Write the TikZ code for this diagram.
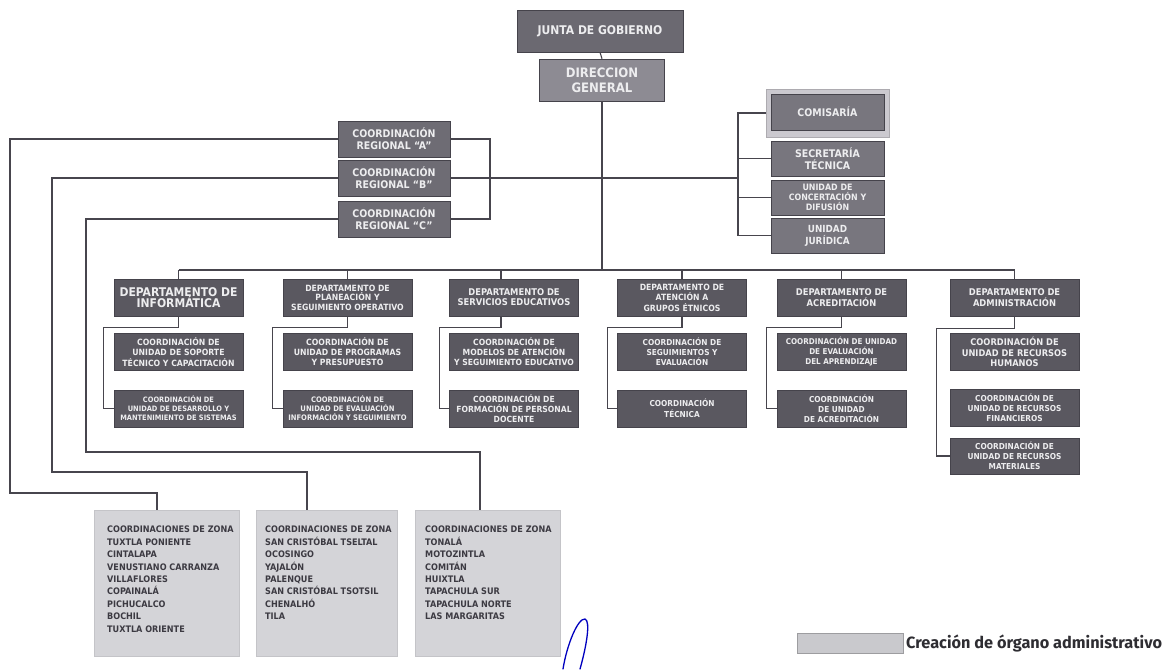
\documentclass[tikz,border=0pt]{standalone}
\usepackage{fontspec}
\setmainfont{DejaVu Sans Condensed}
\newfontfamily\legfont{Fira Sans}
\usetikzlibrary{calc}
\definecolor{linec}{HTML}{47454D}
\definecolor{deptc}{HTML}{5A5860}
\definecolor{edgec}{HTML}{45434B}
\definecolor{regc}{HTML}{6E6C74}
\definecolor{juntac}{HTML}{6B6971}
\definecolor{dgc}{HTML}{8D8B93}
\definecolor{rightc}{HTML}{78767E}
\definecolor{framec}{HTML}{CBC9CF}
\definecolor{zonec}{HTML}{D4D4D8}
\definecolor{zedge}{HTML}{C4C4C8}
\definecolor{txtc}{HTML}{EDEDEF}
\definecolor{ztxt}{HTML}{3C3A42}
\definecolor{legtxt}{HTML}{2E2D32}
\newcommand\fsz[2]{\fontsize{#1}{#2}\selectfont}
\begin{document}
\begin{tikzpicture}[x=1pt,y=-1pt,
  conn/.style={draw=linec, line width=1.1pt},
  box/.style={rectangle, draw=edgec, line width=0.6pt, text=txtc, align=center, inner sep=1pt, fill=deptc},
  dept/.style={box, minimum width=129, minimum height=37},
  sub/.style={box, minimum width=129, minimum height=37},
  reg/.style={box, fill=regc, minimum width=112, minimum height=36, font=\bfseries\fsz{10.5}{12}},
  rbox/.style={box, fill=rightc, minimum width=113, minimum height=35},
  zone/.style={rectangle, fill=zonec, draw=zedge, line width=0.5pt, minimum height=146},
  ztext/.style={anchor=north west, inner sep=0pt, align=left, text=ztxt, font=\bfseries\fsz{9}{12.4}}
]
\fill[white] (0,0) rectangle (1166,669);
\useasboundingbox (0,0) rectangle (1166,669);

% top
\node[box, fill=juntac, minimum width=166, minimum height=42, font=\bfseries\fsz{12}{13}] (junta) at (600,31) {JUNTA DE GOBIERNO};
\node[box, fill=dgc, minimum width=125, minimum height=42, font=\bfseries\fsz{13}{15}] (dg) at (602,80) {DIRECCION\\GENERAL};

% right column
\node[rectangle, fill=framec, draw=framec!85!black, line width=0.4pt, minimum width=123, minimum height=48] (comf) at (827.5,113) {};
\node[rbox, minimum height=36, font=\bfseries\fsz{10.5}{12}] (com) at (827.5,112) {COMISARÍA};
\node[rbox, font=\bfseries\fsz{10.5}{12}] (sec) at (827.5,158.5) {SECRETARÍA\\TÉCNICA};
\node[rbox, font=\bfseries\fsz{8.8}{10}] (con) at (827.5,197.5) {UNIDAD DE\\CONCERTACIÓN Y\\DIFUSIÓN};
\node[rbox, font=\bfseries\fsz{9.8}{12}] (jur) at (827.5,235.5) {UNIDAD\\JURÍDICA};

% regional
\node[reg] (rA) at (394,139) {COORDINACIÓN\\REGIONAL “A”};
\node[reg] (rB) at (394,178) {COORDINACIÓN\\REGIONAL “B”};
\node[reg] (rC) at (394,219) {COORDINACIÓN\\REGIONAL “C”};

% departments
\node[dept, font=\bfseries\fsz{12}{11.5}] (inf) at (178.5,297.5) {DEPARTAMENTO DE\\INFORMÁTICA};
\node[dept, font=\bfseries\fsz{8.6}{9.6}] (pla) at (347.5,297.5) {DEPARTAMENTO DE\\PLANEACIÓN Y\\SEGUIMIENTO OPERATIVO};
\node[dept, font=\bfseries\fsz{9.3}{10}] (ser) at (514,297.5) {DEPARTAMENTO DE\\SERVICIOS EDUCATIVOS};
\node[dept, font=\bfseries\fsz{8.6}{10.5}] (ate) at (682,297.5) {DEPARTAMENTO DE\\ATENCIÓN A\\GRUPOS ÉTNICOS};
\node[dept, font=\bfseries\fsz{9.3}{11}] (acr) at (841.5,297.5) {DEPARTAMENTO DE\\ACREDITACIÓN};
\node[dept, font=\bfseries\fsz{9.3}{11}] (adm) at (1014.5,297.5) {DEPARTAMENTO DE\\ADMINISTRACIÓN};

% sub units
\node[sub, font=\bfseries\fsz{8.6}{10.3}] (inf1) at (178.5,352) {COORDINACIÓN DE\\UNIDAD DE SOPORTE\\TÉCNICO Y CAPACITACIÓN};
\node[sub, font=\bfseries\fsz{7.4}{9}] (inf2) at (178.5,408.5) {COORDINACIÓN DE\\UNIDAD DE DESARROLLO Y\\MANTENIMIENTO DE SISTEMAS};
\node[sub, font=\bfseries\fsz{8.6}{10}] (pla1) at (347.5,352) {COORDINACIÓN DE\\UNIDAD DE PROGRAMAS\\Y PRESUPUESTO};
\node[sub, font=\bfseries\fsz{7.6}{9}] (pla2) at (347.5,408.5) {COORDINACIÓN DE\\UNIDAD DE EVALUACIÓN\\INFORMACIÓN Y SEGUIMIENTO};
\node[sub, font=\bfseries\fsz{8.5}{10}] (ser1) at (514,352) {COORDINACIÓN DE\\MODELOS DE ATENCIÓN\\Y SEGUIMIENTO EDUCATIVO};
\node[sub, font=\bfseries\fsz{8.5}{10}] (ser2) at (514,408.5) {COORDINACIÓN DE\\FORMACIÓN DE PERSONAL\\DOCENTE};
\node[sub, font=\bfseries\fsz{8.2}{10}] (ate1) at (682,352) {COORDINACIÓN DE\\SEGUIMIENTOS Y\\EVALUACIÓN};
\node[sub, font=\bfseries\fsz{8.2}{11}] (ate2) at (682,408.5) {COORDINACIÓN\\TÉCNICA};
\node[sub, font=\bfseries\fsz{8}{10}] (acr1) at (841.5,352) {COORDINACIÓN DE UNIDAD\\DE EVALUACIÓN\\DEL APRENDIZAJE};
\node[sub, font=\bfseries\fsz{8.2}{10}] (acr2) at (841.5,408.5) {COORDINACIÓN\\DE UNIDAD\\DE ACREDITACIÓN};
\node[sub, font=\bfseries\fsz{9.2}{10.5}] (adm1) at (1014.5,352) {COORDINACIÓN DE\\UNIDAD DE RECURSOS\\HUMANOS};
\node[sub, font=\bfseries\fsz{8.2}{10}] (adm2) at (1014.5,407.5) {COORDINACIÓN DE\\UNIDAD DE RECURSOS\\FINANCIEROS};
\node[sub, minimum height=36, font=\bfseries\fsz{8.2}{10}] (adm3) at (1014.5,456) {COORDINACIÓN DE\\UNIDAD DE RECURSOS\\MATERIALES};

% zone boxes
\node[zone, minimum width=145] (z1) at (166.5,583) {};
\node[zone, minimum width=141] (z2) at (326.5,583) {};
\node[zone, minimum width=145] (z3) at (487.5,583) {};
\node[ztext] (z1t) at (107,526) {COORDINACIONES DE ZONA\\TUXTLA PONIENTE\\CINTALAPA\\VENUSTIANO CARRANZA\\VILLAFLORES\\COPAINALÁ\\PICHUCALCO\\BOCHIL\\TUXTLA ORIENTE};
\node[ztext] (z2t) at (265,526) {COORDINACIONES DE ZONA\\SAN CRISTÓBAL TSELTAL\\OCOSINGO\\YAJALÓN\\PALENQUE\\SAN CRISTÓBAL TSOTSIL\\CHENALHÓ\\TILA};
\node[ztext] (z3t) at (425,526) {COORDINACIONES DE ZONA\\TONALÁ\\MOTOZINTLA\\COMITÁN\\HUIXTLA\\TAPACHULA SUR\\TAPACHULA NORTE\\LAS MARGARITAS};

% legend
\node[rectangle, fill=zonec!95!black, draw=zedge!80!black, line width=0.6pt, minimum width=106, minimum height=20] (leg) at (850,643) {};
\node[anchor=west, inner sep=0pt, text=legtxt, font=\legfont\bfseries\fsz{16.3}{18}] (legt) at (906,643) {Creación de órgano administrativo};

% coordinates
\coordinate (busy) at (0,270);
\coordinate (rbr) at (738,178);
\coordinate (lbr) at (490,178);
\coordinate (ca) at (10,493);
\coordinate (ta) at (157,493);
\coordinate (cb) at (52,472);
\coordinate (tb) at (307,472);
\coordinate (cc) at (86,452);
\coordinate (tc) at (480,452);
\coordinate (sx) at (501,0);

% connectors top
\draw[conn] (junta.south) -- (dg.north);
\draw[conn] (dg.south) -- (dg.south |- busy);
\draw[conn] (rB.east) -- (rbr);
\draw[conn] (rA.east) -| (lbr) |- (rC.east);
\draw[conn] (comf.west) -| (rbr) |- (jur.west);
\draw[conn] (sec.west) -- (sec.west -| rbr);
\draw[conn] (con.west) -- (con.west -| rbr);

% bus to departments
\draw[conn] (inf.north |- busy) -- (adm.north |- busy);
\foreach \d in {inf,pla,ate,acr,adm}{
  \draw[conn] (\d.north) -- (\d.north |- busy);
}
\draw[conn] (sx |- ser.north) -- (sx |- busy);
% department to sub units
\foreach \d in {inf,pla,ate,acr}{
  \draw[conn] (\d.south) -- ++(0,11) -| ([xshift=-10pt]\d1.west) |- (\d2.west);
}
\draw[conn] (sx |- ser.south) -- ++(0,11) -| ([xshift=-10pt]ser1.west) |- (ser2.west);
\draw[conn] (adm.south) -- ++(0,12) -| ([xshift=-13pt]adm1.west) |- (adm3.west);

% regional to zones
\draw[conn] (rA.west) -| (ca) -- (ta) -- (ta |- z1.north);
\draw[conn] (rB.west) -| (cb) -- (tb) -- (tb |- z2.north);
\draw[conn] (rC.west) -| (cc) -- (tc) -- (tc |- z3.north);

% hand-drawn pen mark
\draw[draw=blue!75!black, line width=1.3pt, line cap=round] (563,669) .. controls (567,644) and (578,618) .. (585,619) .. controls (591,621) and (586,648) .. (580,669);
\end{tikzpicture}
\end{document}
